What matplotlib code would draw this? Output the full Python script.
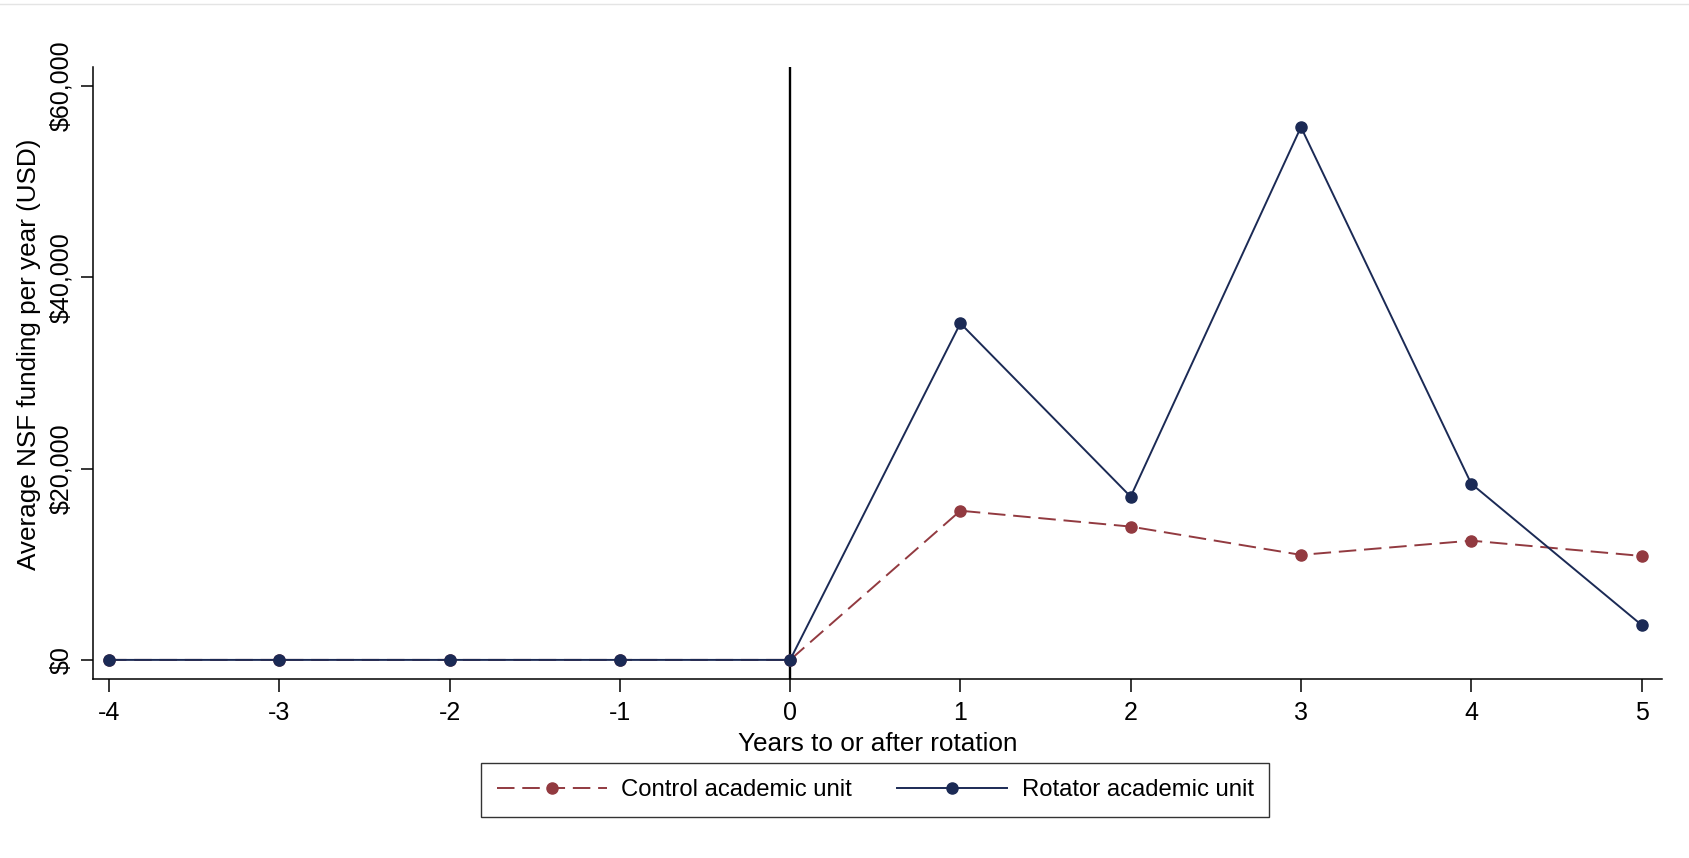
import numpy as np
import matplotlib.pyplot as plt
from matplotlib.ticker import FuncFormatter
from matplotlib.lines import Line2D

years = [-4, -3, -2, -1, 0, 1, 2, 3, 4, 5]
control = [0, 0, 0, 0, 0, 15600, 13940, 10980, 12470, 10870]
rotator = [0, 0, 0, 0, 0, 35200, 17070, 55720, 18430, 3660]
y_ticks = [0, 20000, 40000, 60000]

navy = "#1b2a55"
maroon = "#923a40"

plt.rcParams['font.family'] = ['Liberation Sans', 'DejaVu Sans']
plt.rcParams['font.size'] = 18
plt.rcParams['axes.unicode_minus'] = False

fig = plt.figure(figsize=(16.9, 8.58), dpi=100)
ax = fig.add_axes([0.055, 0.2086, 0.9284, 0.7133])

ax.axvline(0, color="black", lw=1.7, zorder=1)
ax.plot(years, control, color=maroon, lw=1.4, dashes=(9, 4),
        marker="o", markersize=8, zorder=2)
ax.plot(years, rotator, color=navy, lw=1.4,
        marker="o", markersize=8, zorder=3)

ax.set_xlim(-4.094, 5.12)
ax.set_ylim(-2000, 62000)
ax.set_xticks(years)
ax.set_yticks(y_ticks)
ax.yaxis.set_major_formatter(FuncFormatter(lambda v, p: "${:,.0f}".format(v)))

ax.spines["top"].set_visible(False)
ax.spines["right"].set_visible(False)
for s in ("left", "bottom"):
    ax.spines[s].set_linewidth(1.1)
ax.tick_params(direction="out", length=9, width=1.1, pad=7, labelsize=18)
ax.tick_params(axis="y", pad=5)
plt.setp(ax.get_yticklabels(), rotation=90, rotation_mode="default",
         ha="right", va="center")

ax.set_xlabel("Years to or after rotation", labelpad=5, fontsize=18.8)
ax.set_ylabel("Average NSF funding per year (USD)", fontsize=18.8)
ax.yaxis.set_label_coords(-0.033, 0.53)

handles = [
    Line2D([], [], color=maroon, lw=1.4, dashes=(9, 4), marker="o", markersize=8),
    Line2D([], [], color=navy, lw=1.4, marker="o", markersize=8),
]
leg = fig.legend(handles, ["Control academic unit", "Rotator academic unit"],
                 loc="center", bbox_to_anchor=(0.518, 0.079), ncol=2,
                 frameon=True, fancybox=False, handlelength=4.6, fontsize=17.2,
                 columnspacing=1.9, borderpad=0.66, handletextpad=0.6)
leg.get_frame().set_edgecolor("black")
leg.get_frame().set_linewidth(1.0)

fig.add_artist(Line2D([0, 1], [0.9955, 0.9955], color="#e4e4e4", lw=1,
                      transform=fig.transFigure))

fig.savefig("out.png", dpi=100)
